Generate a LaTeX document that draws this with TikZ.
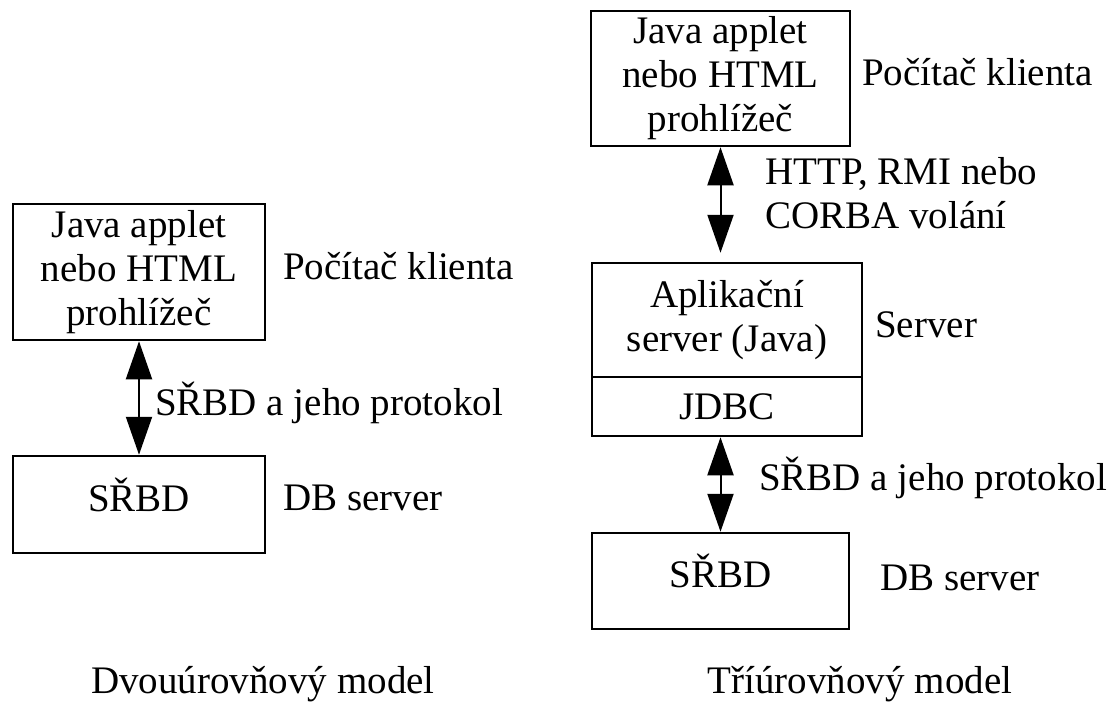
\documentclass[tikz,border=0pt]{standalone}
\usepackage{fontspec}
\setmainfont{Liberation Serif}
\usetikzlibrary{positioning,arrows.meta}

\begin{document}
\begin{tikzpicture}[x=1pt, y=-1pt, font=\fontsize{39}{44}\selectfont,
    box/.style={draw, line width=2.5pt, inner sep=0pt, align=center},
    lbl/.style={inner sep=0pt, anchor=base west},
    conn/.style={line width=2pt, {Triangle[length=38pt,width=26pt]}-{Triangle[length=38pt,width=26pt]}}]
    \useasboundingbox (0,0) rectangle (1113,715);

    % dvouurovnovy model
    \node[box, minimum width=252pt, minimum height=136pt] (klient1) at (139,272) {Java applet\\nebo HTML\\prohlížeč};
    \node[box, minimum width=252pt, minimum height=97pt, text height=22pt, text depth=9pt] (db1) at (139,504.5) {SŘBD};
    \node[lbl] (pc1) at (283,279) {Počítač klienta};
    \node[lbl] (dbs1) at (283,510) {DB server};
    \node[lbl] (prot1) at (155,415) {SŘBD a jeho protokol};
    \draw[conn] (klient1) -- (db1);

    % triurovnovy model
    \node[box, minimum width=259pt, minimum height=135pt] (klient2) at (720.5,78.5) {Java applet\\nebo HTML\\prohlížeč};
    \node[box, minimum width=270pt, minimum height=114pt] (appsrv) at (727,320) {Aplikační\\server (Java)};
    \node[box, minimum width=270pt, minimum height=59pt] (jdbc) at (727,406.5) {JDBC};
    \node[box, minimum width=257pt, minimum height=96pt, text height=22pt, text depth=9pt] (db2) at (720.5,581) {SŘBD};
    \node[lbl] (pc2) at (862,85) {Počítač klienta};
    \node[inner sep=0pt, anchor=west, align=left] (http) at (765,193) {HTTP, RMI nebo\\CORBA volání};
    \node[lbl] (srv) at (875,337) {Server};
    \node[lbl] (prot2) at (759,490) {SŘBD a jeho protokol};
    \node[lbl] (dbs2) at (880,590) {DB server};
    \draw[conn, shorten >=9pt] (klient2.south) -- (klient2.south |- appsrv.north);
    \draw[conn] (db2.north |- jdbc.south) -- (db2.north);

    \node[inner sep=0pt, anchor=base] (model2) at (263,693) {Dvouúrovňový model};
    \node[inner sep=0pt, anchor=base] (model3) at (860,693) {Tříúrovňový model};
\end{tikzpicture}
\end{document}
